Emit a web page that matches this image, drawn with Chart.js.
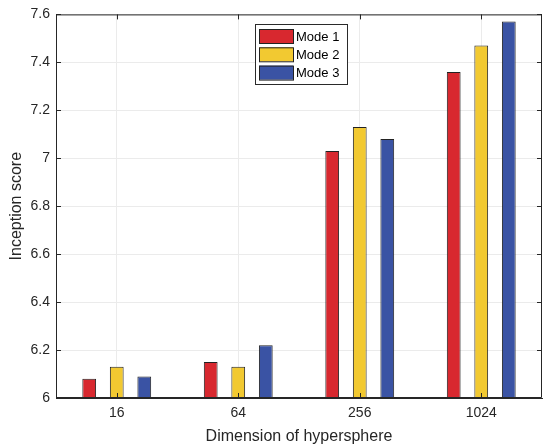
<!DOCTYPE html>
<html>
<head>
<meta charset="utf-8">
<script src="https://cdn.jsdelivr.net/npm/chart.js@4.4.1/dist/chart.umd.min.js"></script>
<style>
  html, body { margin: 0; padding: 0; background: #fff; }
  #wrap { width: 544px; height: 446px; }
</style>
</head>
<body>
<div id="wrap"><canvas id="c"></canvas></div>
<script>
const dims = ['16', '64', '256', '1024'];
const mode1 = [6.08, 6.15, 7.03, 7.36];
const mode2 = [6.13, 6.13, 7.13, 7.47];
const mode3 = [6.09, 6.22, 7.08, 7.57];
const seriesNames = ['Mode 1', 'Mode 2', 'Mode 3'];
const seriesColors = ['#d8282f', '#f2c931', '#3a53a4'];
const yTicks = [6, 6.2, 6.4, 6.6, 6.8, 7, 7.2, 7.4, 7.6];

const FONT = '"Liberation Sans", Arial, Helvetica, sans-serif';
const INK = '#262626';

// matlab style box: top/right border + inward tick marks
const boxPlugin = {
  id: 'box',
  afterDraw(chart) {
    const { ctx, chartArea: a, scales } = chart;
    ctx.save();
    ctx.strokeStyle = INK;
    ctx.lineWidth = 1;
    ctx.beginPath();
    ctx.rect(a.left + 0.5, a.top + 0.5, a.right - a.left - 1, a.bottom - a.top - 1);
    scales.y.ticks.forEach(t => {
      const y = Math.round(scales.y.getPixelForValue(t.value)) + 0.5;
      ctx.moveTo(a.left, y); ctx.lineTo(a.left + 5, y);
      ctx.moveTo(a.right, y); ctx.lineTo(a.right - 5, y);
    });
    scales.x.ticks.forEach((t, i) => {
      const x = Math.round(scales.x.getPixelForTick(i)) + 0.5;
      ctx.moveTo(x, a.bottom); ctx.lineTo(x, a.bottom - 5);
      ctx.moveTo(x, a.top); ctx.lineTo(x, a.top + 5);
    });
    ctx.stroke();

    // legend box inside the axes
    const lx = 255, ly = 24, lw = 92, lh = 60;
    ctx.fillStyle = '#fff';
    ctx.fillRect(lx, ly, lw, lh);
    ctx.strokeStyle = '#2a2a2a';
    ctx.strokeRect(lx + 0.5, ly + 0.5, lw, lh);
    ctx.font = '13px ' + FONT;
    ctx.textBaseline = 'middle';
    chart.data.datasets.forEach((ds, i) => {
      const y = ly + 5 + i * 18.3;
      ctx.fillStyle = ds.backgroundColor;
      ctx.fillRect(lx + 4, y, 34, 14);
      ctx.strokeStyle = '#222';
      ctx.strokeRect(lx + 4.5, y + 0.5, 34, 14);
      ctx.fillStyle = '#000';
      ctx.fillText(ds.label, lx + 41, y + 8);
    });
    ctx.restore();
  }
};

const datasets = [mode1, mode2, mode3].map((d, i) => ({
  label: seriesNames[i],
  data: d,
  backgroundColor: seriesColors[i],
  borderColor: '#222',
  borderWidth: 1,
  borderSkipped: false,
  categoryPercentage: 0.68,
  barPercentage: 0.5
}));

new Chart(document.getElementById('c'), {
  type: 'bar',
  data: { labels: dims, datasets },
  plugins: [boxPlugin],
  options: {
    responsive: true,
    maintainAspectRatio: false,
    animation: false,
    layout: { padding: { left: 7, right: 2, top: 11, bottom: 0 } },
    scales: {
      x: {
        grid: { color: '#ebebeb', offset: false, drawTicks: false },
        border: { color: INK },
        ticks: { color: INK, font: { family: FONT, size: 14 }, padding: 7 },
        title: {
          display: true, text: 'Dimension of hypersphere', color: INK,
          font: { family: FONT, size: 16 }, padding: { top: 1, bottom: 0 }
        },
        afterFit: s => { s.height = 48; }
      },
      y: {
        min: yTicks[0],
        max: yTicks[yTicks.length - 1],
        afterBuildTicks: s => { s.ticks = yTicks.map(v => ({ value: v })); },
        grid: { color: '#ebebeb', drawTicks: false },
        border: { color: INK },
        ticks: {
          color: INK, font: { family: FONT, size: 14 }, padding: 6,
          callback: v => String(+Number(v).toFixed(1))
        },
        title: {
          display: true, text: 'Inception score', color: INK,
          font: { family: FONT, size: 16 }, padding: { top: 0, bottom: 2 }
        },
        afterFit: s => { s.width = 49; }
      }
    },
    plugins: {
      legend: { display: false },
      tooltip: { enabled: false }
    }
  }
});
</script>
</body>
</html>
